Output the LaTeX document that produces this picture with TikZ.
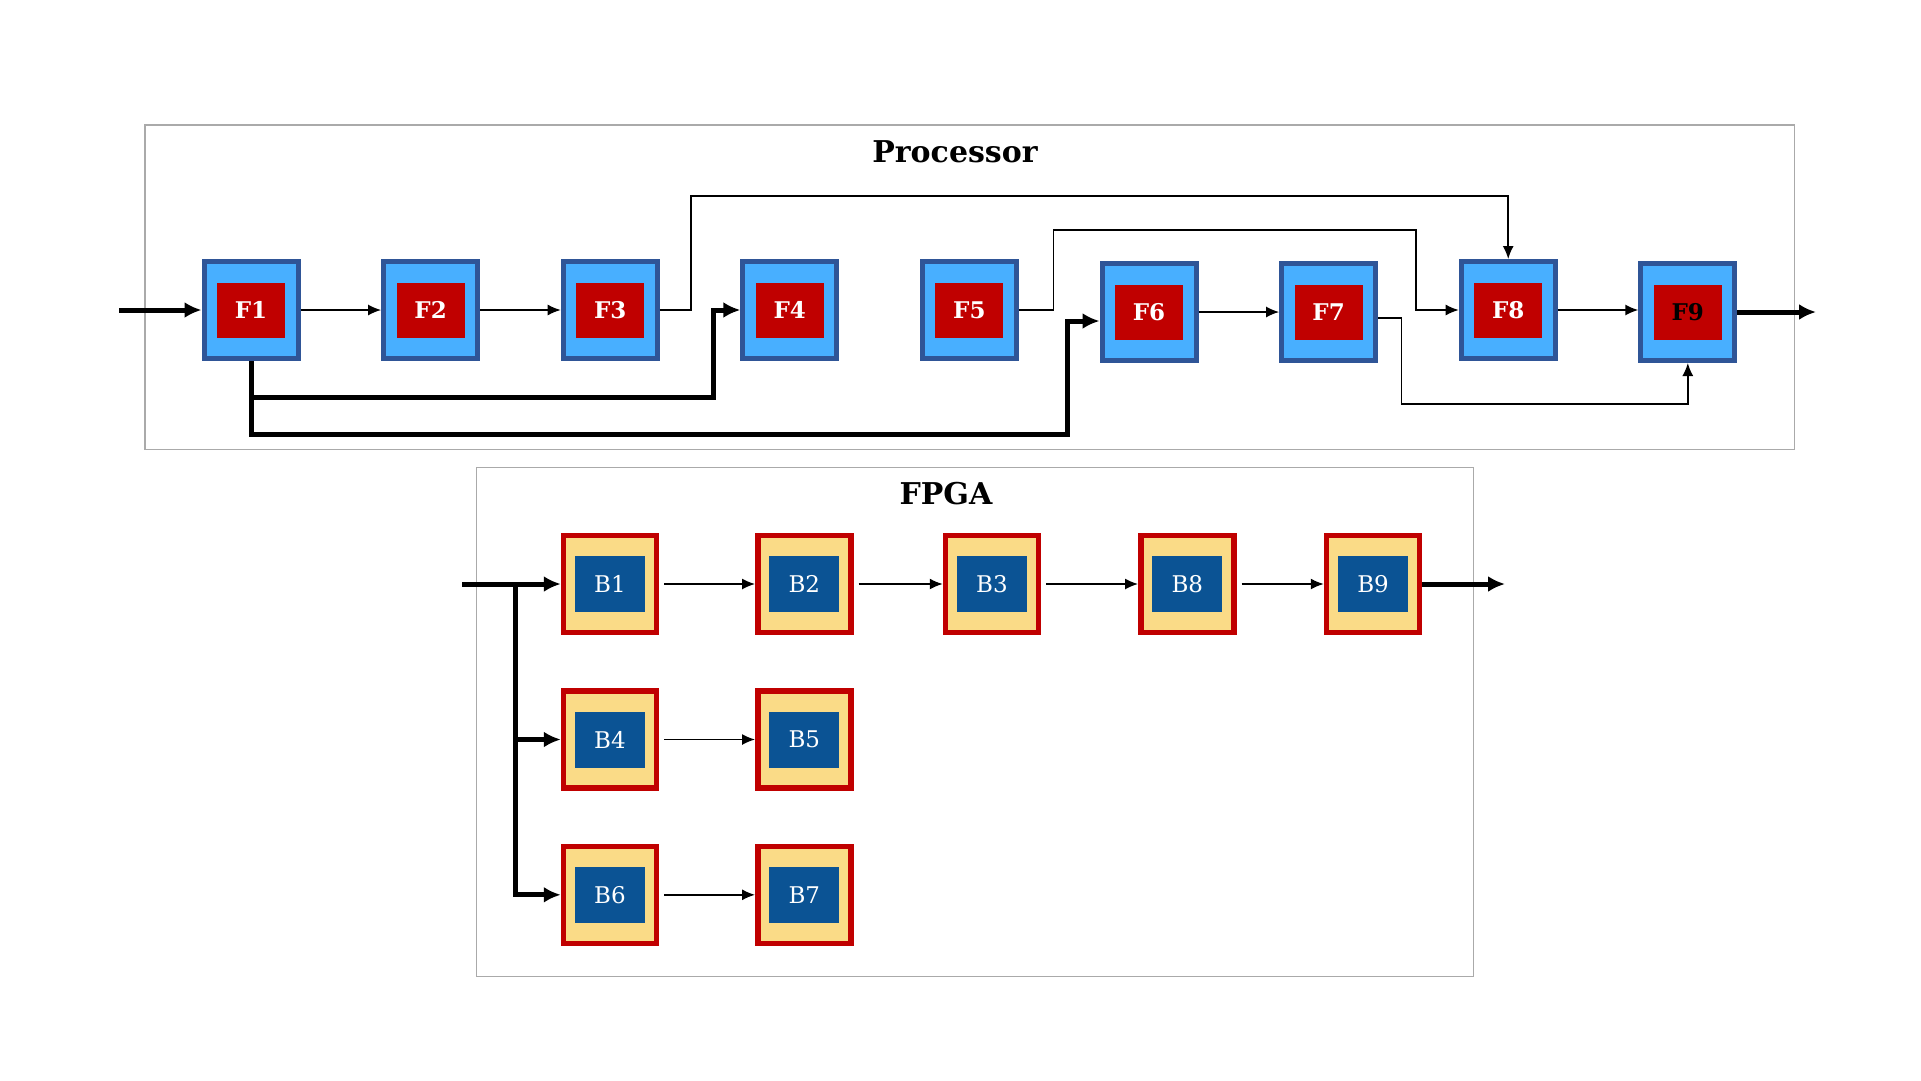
\documentclass[tikz,border=0pt]{standalone}
\usepackage{fontspec}
\setmainfont{DejaVu Serif}
\usetikzlibrary{arrows.meta}

\definecolor{fborder}{RGB}{47,85,151}
\definecolor{fsky}{RGB}{72,175,255}
\definecolor{fred}{RGB}{192,0,0}
\definecolor{bred}{RGB}{192,0,0}
\definecolor{bgold}{RGB}{250,219,135}
\definecolor{bnavy}{RGB}{11,83,148}
\definecolor{panelgray}{RGB}{170,170,170}

\begin{document}
\begin{tikzpicture}[x=1pt,y=-1pt,
	panel/.style={draw=panelgray,line width=1.5pt},
	caption/.style={anchor=base,font=\fontsize{30}{36}\selectfont\bfseries},
	fbox/.style={draw=fborder,fill=fsky,line width=5pt,minimum width=94pt,minimum height=97pt,inner sep=0pt},
	fcore/.style={fill=fred,minimum width=68pt,minimum height=55pt,inner sep=0pt,font=\fontsize{23}{27}\selectfont\bfseries},
	bbox/.style={draw=bred,fill=bgold,line width=5.5pt,minimum width=93pt,minimum height=97pt,inner sep=0pt},
	bcore/.style={fill=bnavy,minimum width=70pt,minimum height=56pt,inner sep=0pt,text=white,font=\fontsize{23}{27}\selectfont},
	thinarr/.style={line width=1.5pt,-{Latex[length=13pt,width=11pt]}},
	thickarr/.style={line width=5pt,-{Latex[length=17pt,width=16pt]}}]
	
	\useasboundingbox (0,0) rectangle (1921,1080);
	
	% panels
	\draw[panel] (144.8,125) rectangle (1794.4,449.3);
	\draw[panel] (476.7,467.3) rectangle (1473.5,976.7);
	\node[caption] (proc) at (955,162) {Processor};
	\node[caption] (fpga) at (946,504) {FPGA};
	
	% processor blocks
	\foreach \i/\x/\y/\tc in {1/251/310/white,2/430.6/310/white,3/610.2/310/white,
		4/789.8/310/white,5/969.4/310/white,6/1149/312/white,7/1328.6/312/white,
		8/1508.2/310/white,9/1687.8/312/black}{
		\node[fbox] (F\i) at (\x,\y) {};
		\node[fcore,text=\tc] (F\i c) at (F\i) {F\i};
	}
	
	% fpga blocks
	\foreach \i/\x/\y in {1/610/584,2/804.3/584,3/992/584,8/1187.3/584,9/1373/584,
		4/610/739.5,5/804.3/739.5,6/610/894.8,7/804.3/894.8}{
		\node[bbox] (B\i) at (\x,\y) {};
		\node[bcore] (B\i c) at (B\i) {B\i};
	}
	
	% processor connections
	\coordinate (pin) at (119,310);
	\coordinate (pout) at (1816,312);
	\coordinate (f3up) at (691,196);
	\coordinate (f5up) at (1053.6,230);
	\coordinate (f8in) at (1416,310);
	\coordinate (f4low) at (713,397);
	\coordinate (f6low) at (1067,434);
	\coordinate (f9low) at (1401.5,404);
	
	\draw[thickarr] (pin) -- (F1.west);
	\foreach \a/\b in {F1/F2,F2/F3,F6/F7,F8/F9}
		\draw[thinarr] (\a.east) -- (\a.east -| \b.west);
	\draw[thinarr] (F3.east) -| (f3up) -| (F8.north);
	\draw[thinarr] (F5.east) -| (f5up) -| (f8in) -- (F8.west);
	\draw[thickarr] (F1.south) |- (f4low) |- (F4.west);
	\draw[thickarr] (F1.south) |- (f6low) |- ([yshift=-9pt]F6.west);
	\draw[thinarr] ([yshift=-6pt]F7.east) -| (f9low) -| (F9.south);
	\draw[thickarr] (F9.east) -- (pout);
	
	% fpga connections
	\coordinate (bin) at (462,584);
	\coordinate (bsplit) at (515,584);
	\coordinate (bout) at (1505,584);
	
	\draw[thickarr] (bin) -- (B1.west);
	\draw[thickarr] (bsplit) |- (B4.west);
	\draw[thickarr] (bsplit) |- (B6.west);
	\foreach \a/\b in {B1/B2,B2/B3,B3/B8,B8/B9,B4/B5,B6/B7}
		\draw[thinarr,shorten <=5pt] (\a.east) -- (\b.west);
	\draw[thickarr] (B9.east) -- (bout);
\end{tikzpicture}
\end{document}
